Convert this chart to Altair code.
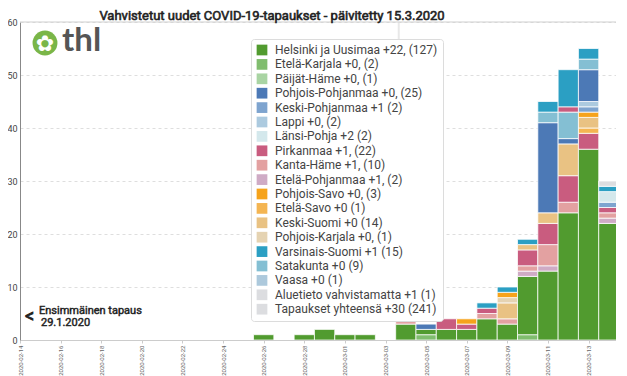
import altair as alt
import pandas as pd

# ---------------- data ----------------
dates = ["2020-02-14", "2020-02-15", "2020-02-16", "2020-02-17", "2020-02-18",
         "2020-02-19", "2020-02-20", "2020-02-21", "2020-02-22", "2020-02-23",
         "2020-02-24", "2020-02-25", "2020-02-26", "2020-02-27", "2020-02-28",
         "2020-02-29", "2020-03-01", "2020-03-02", "2020-03-03", "2020-03-04",
         "2020-03-05", "2020-03-06", "2020-03-07", "2020-03-08", "2020-03-09",
         "2020-03-10", "2020-03-11", "2020-03-12", "2020-03-13", "2020-03-14"]

regions = ["Helsinki ja Uusimaa", "Etelä-Karjala", "Päijät-Häme", "Pohjois-Pohjanmaa",
           "Keski-Pohjanmaa", "Lappi", "Länsi-Pohja", "Pirkanmaa", "Kanta-Häme",
           "Etelä-Pohjanmaa", "Pohjois-Savo", "Etelä-Savo", "Keski-Suomi",
           "Pohjois-Karjala", "Varsinais-Suomi", "Satakunta", "Vaasa",
           "Aluetieto vahvistamatta", "Tapaukset yhteensä"]
new_cases = ["+22,", "+0,", "+0,", "+0,", "+1", "+0,", "+2", "+1,", "+1,", "+1,",
             "+0,", "+0", "+0", "+0,", "+1", "+0", "+0", "+1", "+30"]
totals = [127, 2, 1, 25, 2, 2, 2, 22, 10, 2, 3, 1, 14, 1, 15, 9, 1, 1, 241]
colors = ["#519b2f", "#80bd6e", "#a9d4a3", "#4c79b6", "#7ea4cf", "#accadf",
          "#d4e8ec", "#c95c7f", "#e3a1a1", "#cfabc5", "#f6a31b", "#f4b552",
          "#e9c283", "#e5d3b2", "#2b9fc3", "#84bfd3", "#adc9dc", "#dcdde0", "#dcdde0"]

# stack order per day, bottom to top: (region, new cases)
stacks = {
    "2020-02-26": [("Helsinki ja Uusimaa", 1)],
    "2020-02-28": [("Helsinki ja Uusimaa", 1)],
    "2020-02-29": [("Helsinki ja Uusimaa", 2)],
    "2020-03-01": [("Helsinki ja Uusimaa", 1)],
    "2020-03-02": [("Helsinki ja Uusimaa", 1)],
    "2020-03-04": [("Helsinki ja Uusimaa", 3), ("Kanta-Häme", 1), ("Pirkanmaa", 1)],
    "2020-03-05": [("Etelä-Karjala", 1), ("Helsinki ja Uusimaa", 1), ("Pohjois-Pohjanmaa", 1)],
    "2020-03-06": [("Helsinki ja Uusimaa", 2), ("Pirkanmaa", 2)],
    "2020-03-07": [("Helsinki ja Uusimaa", 2), ("Pirkanmaa", 1), ("Pohjois-Savo", 1)],
    "2020-03-08": [("Helsinki ja Uusimaa", 4), ("Kanta-Häme", 1), ("Pirkanmaa", 1),
                   ("Varsinais-Suomi", 1)],
    "2020-03-09": [("Helsinki ja Uusimaa", 3), ("Kanta-Häme", 1), ("Keski-Suomi", 3),
                   ("Pohjois-Karjala", 1), ("Pohjois-Savo", 1), ("Varsinais-Suomi", 1)],
    "2020-03-10": [("Etelä-Karjala", 1), ("Helsinki ja Uusimaa", 11), ("Etelä-Pohjanmaa", 1),
                   ("Kanta-Häme", 1), ("Pirkanmaa", 3), ("Keski-Suomi", 1),
                   ("Varsinais-Suomi", 1)],
    "2020-03-11": [("Helsinki ja Uusimaa", 13), ("Etelä-Pohjanmaa", 1), ("Kanta-Häme", 4),
                   ("Pirkanmaa", 4), ("Keski-Suomi", 2), ("Pohjois-Pohjanmaa", 17),
                   ("Satakunta", 2), ("Varsinais-Suomi", 2)],
    "2020-03-12": [("Helsinki ja Uusimaa", 24), ("Kanta-Häme", 2), ("Pirkanmaa", 5),
                   ("Keski-Suomi", 6), ("Pohjois-Pohjanmaa", 1), ("Satakunta", 5),
                   ("Pirkanmaa", 1), ("Varsinais-Suomi", 7)],
    "2020-03-13": [("Helsinki ja Uusimaa", 36), ("Pirkanmaa", 3), ("Etelä-Savo", 1),
                   ("Keski-Suomi", 2), ("Pohjois-Savo", 1), ("Keski-Pohjanmaa", 1),
                   ("Lappi", 1), ("Pohjois-Pohjanmaa", 6), ("Satakunta", 2),
                   ("Varsinais-Suomi", 2)],
    "2020-03-14": [("Helsinki ja Uusimaa", 22), ("Etelä-Pohjanmaa", 1), ("Kanta-Häme", 1),
                   ("Pirkanmaa", 1), ("Keski-Pohjanmaa", 1), ("Länsi-Pohja", 2),
                   ("Varsinais-Suomi", 1), ("Aluetieto vahvistamatta", 1)],
}

marker_day = [18.65]   # light vertical marker line (between 3.3. and 4.3.)
y_max = 60
title_text = "Vahvistetut uudet COVID-19-tapaukset - päivitetty 15.3.2020"

# ---------------- build table ----------------
labels = [f"{r} {n} ({t})" for r, n, t in zip(regions, new_cases, totals)]
label_of = dict(zip(regions, labels))

rows = []
for d, segs in stacks.items():
    i = dates.index(d)
    base = 0
    for r, n in segs:
        rows.append({"x0": i - 0.5, "x1": i + 0.5, "y0": base, "y1": base + n,
                     "alue": label_of[r]})
        base += n
df = pd.DataFrame(rows)

FONT = "Liberation Sans Narrow, Roboto, sans-serif"
label_expr = "[" + ",".join(f"'{d}'" for d in dates) + "][datum.value]"

xscale = alt.Scale(domain=[0, 29.35], nice=False, zero=False)
yscale = alt.Scale(domain=[0, y_max], nice=False)

bars = alt.Chart(df).mark_bar(clip=True, stroke="white", strokeWidth=1,
                              strokeOpacity=0.75).encode(
    x=alt.X("x0:Q", scale=xscale,
            axis=alt.Axis(values=list(range(len(dates))), labelExpr=label_expr,
                          labelAngle=270, labelFontSize=6, labelColor="#666",
                          labelFont=FONT, tickSize=3, tickColor="#ccc",
                          domainColor="#ccc", grid=False, title=None,
                          labelPadding=2, labelOverlap=False)),
    x2="x1:Q",
    y=alt.Y("y0:Q", scale=yscale,
            axis=alt.Axis(values=[0, 10, 20, 30, 40, 50, 60], grid=True,
                          gridDash=[3, 3], gridColor="#dedede", domainColor="#888",
                          ticks=False, labelFontSize=9, labelColor="#444",
                          labelFont=FONT, title=None, labelPadding=3)),
    y2="y1:Q",
    color=alt.Color("alue:N",
                    scale=alt.Scale(domain=labels, range=colors),
                    legend=alt.Legend(orient="none", legendX=231, legendY=17,
                                      title=None, symbolType="square",
                                      symbolSize=115, symbolStrokeWidth=0,
                                      labelFontSize=12, labelFont=FONT,
                                      labelColor="#444", labelLimit=300,
                                      rowPadding=2.4, padding=5, labelOffset=7,
                                      fillColor="white", strokeColor="#dcdcdc",
                                      cornerRadius=3, values=labels)),
)

vline = alt.Chart(pd.DataFrame({"d": marker_day})).mark_rule(
    color="#e8e8e8", strokeWidth=2).encode(
    x=alt.X("d:Q", scale=xscale), y=alt.value(0), y2=alt.value(318))

topline = alt.Chart(pd.DataFrame({"v": [y_max]})).mark_rule(
    color="#cfcfcf", strokeWidth=1).encode(
    y=alt.Y("v:Q", scale=yscale), x=alt.value(0), x2=alt.value(596))

one = pd.DataFrame({"a": [0]})

title = alt.Chart(one).mark_text(text=title_text, font=FONT, fontSize=13,
                                 color="#222", stroke="#222", strokeWidth=0.6,
                                 align="center", baseline="middle").encode(
    x=alt.value(252), y=alt.value(-6))

arrow = alt.Chart(one).mark_text(text="<", font=FONT, fontSize=18,
                                 color="#222", stroke="#222", strokeWidth=0.9,
                                 align="left", baseline="middle").encode(
    x=alt.value(5), y=alt.value(295))
ann1 = alt.Chart(one).mark_text(text="Ensimmäinen tapaus", font=FONT, fontSize=11,
                                color="#222", stroke="#222", strokeWidth=0.45,
                                align="left", baseline="middle").encode(
    x=alt.value(19), y=alt.value(289))
ann2 = alt.Chart(one).mark_text(text="29.1.2020", font=FONT, fontSize=11,
                                color="#222", stroke="#222", strokeWidth=0.45,
                                align="left", baseline="middle").encode(
    x=alt.value(21), y=alt.value(301))

logo_circle = alt.Chart(one).mark_circle(size=620, color="#7ab648", opacity=1).encode(
    x=alt.value(25), y=alt.value(21))
logo_flower = alt.Chart(one).mark_text(text="✿", font="DejaVu Sans", fontSize=22,
                                       color="white", align="center",
                                       baseline="middle").encode(
    x=alt.value(25), y=alt.value(22))
logo_text = alt.Chart(one).mark_text(text="thl", font="Lato", fontSize=33,
                                     fontWeight="bold", color="#555",
                                     align="left", baseline="middle").encode(
    x=alt.value(42), y=alt.value(19))

chart = alt.layer(vline, topline, bars, arrow, ann1, ann2, logo_circle,
                  logo_flower, logo_text, title).properties(
    width=596, height=318,
    autosize=alt.AutoSizeParams(type="none"),
    padding={"left": 12, "top": 14, "right": 0, "bottom": 36},
).configure_view(stroke=None)

chart.save("out.html", embed_options={"renderer": "svg", "actions": False})
